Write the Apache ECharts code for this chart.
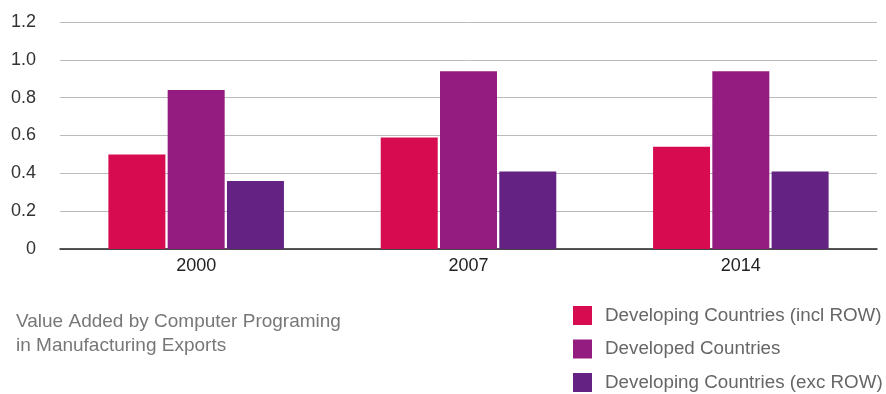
<!DOCTYPE html>
<html>
<head>
<meta charset="utf-8">
<script src="https://cdn.jsdelivr.net/npm/echarts@6/dist/echarts.min.js"></script>
<style>
  html, body { margin: 0; padding: 0; background: #fff; }
  #main { width: 886px; height: 394px; }
</style>
</head>
<body>
<div id="main"></div>
<script>
// data
const years = ['2000', '2007', '2014'];
const seriesNames = ['Developing Countries (incl ROW)', 'Developed Countries', 'Developing Countries (exc ROW)'];
const inclRow = [0.50, 0.59, 0.54];
const developed = [0.84, 0.94, 0.94];
const excRow = [0.36, 0.41, 0.41];
const colors = ['#D70C50', '#941B7F', '#642383'];
const captionLines = ['Value Added by Computer Programing', 'in Manufacturing Exports'];

const chart = echarts.init(document.getElementById('main'));
const font = '"Liberation Sans", Arial, sans-serif';

const makeBar = (name, data, i) => ({
  name: name,
  type: 'bar',
  data: data,
  barWidth: 57,
  barGap: '4%',
  itemStyle: { color: colors[i] }
});

chart.setOption({
  animation: false,
  textStyle: { fontFamily: font },
  title: {
    text: captionLines.join('\n'),
    left: 16,
    top: 310,
    padding: 0,
    textStyle: { fontSize: 19, fontWeight: 'normal', color: '#777', lineHeight: 24, fontFamily: font }
  },
  legend: {
    orient: 'vertical',
    left: 573,
    top: 306,
    height: 88,
    padding: 0,
    itemWidth: 19,
    itemHeight: 19,
    itemGap: 14.5,
    icon: 'rect',
    data: seriesNames,
    textStyle: { fontSize: 18.8, lineHeight: 19, color: '#666', padding: [0, 0, 0, 8], fontFamily: font }
  },
  grid: { left: 60, right: 9, top: 22, bottom: 145 },
  xAxis: {
    type: 'category',
    data: years,
    axisTick: { show: false },
    axisLine: { lineStyle: { color: '#222', width: 1.5 } },
    axisLabel: { fontSize: 18, color: '#222', margin: 8 }
  },
  yAxis: {
    type: 'value',
    min: 0,
    max: 1.2,
    interval: 0.2,
    axisLine: { show: false },
    axisTick: { show: false },
    splitLine: { lineStyle: { color: '#bbb', width: 1 } },
    axisLabel: {
      fontSize: 18,
      color: '#333',
      margin: 24,
      formatter: v => (v === 0 ? '0' : v.toFixed(1))
    }
  },
  series: [
    makeBar(seriesNames[0], inclRow, 0),
    makeBar(seriesNames[1], developed, 1),
    makeBar(seriesNames[2], excRow, 2)
  ]
});
</script>
</body>
</html>
